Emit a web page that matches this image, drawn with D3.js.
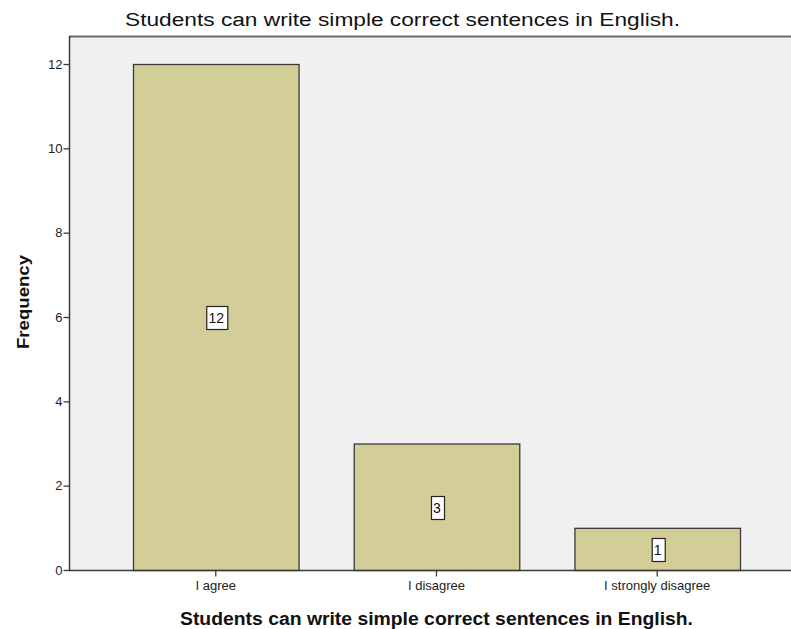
<!DOCTYPE html>
<html>
<head>
<meta charset="utf-8">
<script src="https://cdn.jsdelivr.net/npm/d3@7"></script>
<style>
  html, body { margin: 0; padding: 0; background: #fff; }
  svg { display: block; font-family: "Liberation Sans", Arial, sans-serif; }
</style>
</head>
<body>
<svg id="chart" width="791" height="629"></svg>
<script>
// Response categories and their counts
const categories = ["I agree", "I disagree", "I strongly disagree"];
const frequencies = [12, 3, 1];
const yTicks = [0, 2, 4, 6, 8, 10, 12];
const chartTitle = "Students can write simple correct sentences in English.";
const xTitle = "Students can write simple correct sentences in English.";
const yTitle = "Frequency";

const svg = d3.select("#chart");
const plot = { left: 69, top: 36, right: 804, bottom: 570 };

const x = d3.scaleBand()
  .domain(categories)
  .range([plot.left, plot.right])
  .paddingInner(0.25)
  .paddingOuter(0.29);

const y = d3.scaleLinear()
  .domain([0, 12])
  .range([plot.bottom, 64]);

// Plot background and frame
svg.append("rect")
  .attr("x", plot.left).attr("y", plot.top)
  .attr("width", plot.right - plot.left).attr("height", plot.bottom - plot.top)
  .attr("fill", "#f0f0f0");
svg.append("line")
  .attr("x1", plot.left).attr("x2", plot.right)
  .attr("y1", plot.top + 0.5).attr("y2", plot.top + 0.5)
  .attr("stroke", "#6b6b6b").attr("stroke-width", 2);

// Bars
svg.append("g").selectAll("rect")
  .data(categories)
  .join("rect")
  .attr("x", d => x(d) + 0.5)
  .attr("y", (d, i) => y(frequencies[i]) + 0.5)
  .attr("width", x.bandwidth())
  .attr("height", (d, i) => y(0) - y(frequencies[i]))
  .attr("fill", "#d3ce98")
  .attr("stroke", "#3a3a3a")
  .attr("stroke-width", 1.3);

// Axes
const yAxis = svg.append("g")
  .attr("transform", `translate(${plot.left + 0.5},0)`)
  .call(d3.axisLeft(y).tickValues(yTicks).tickSize(6).tickPadding(1).tickFormat(d3.format("d")));
const xAxis = svg.append("g")
  .attr("transform", `translate(0,${plot.bottom + 0.5})`)
  .call(d3.axisBottom(x).tickSize(6).tickPadding(4));

[yAxis, xAxis].forEach(g => {
  g.select(".domain").attr("stroke", "#3a3a3a").attr("stroke-width", 1.5);
  g.selectAll(".tick line").attr("stroke", "#3a3a3a").attr("stroke-width", 1.3);
  g.selectAll(".tick text")
    .attr("fill", "#222")
    .style("font-size", "13px")
    .style("font-family", "'Liberation Sans', Arial, sans-serif");
});
xAxis.select(".domain").attr("d", `M${plot.left},0H${plot.right}`);
yAxis.select(".domain").attr("d", `M0,${plot.top}V${plot.bottom}`);

// Value labels centred in each bar
const labels = svg.append("g").selectAll("g")
  .data(categories)
  .join("g")
  .attr("transform", (d, i) => `translate(${x(d) + x.bandwidth() / 2 + 0.5},${Math.round(y(frequencies[i] / 2)) + 1})`);
labels.each(function (d, i) {
  const g = d3.select(this);
  const t = g.append("text")
    .attr("text-anchor", "middle")
    .attr("dy", "0.36em")
    .attr("fill", "#111")
    .style("font-size", "14px")
    .text(frequencies[i]);
  const bb = t.node().getBBox();
  g.insert("rect", "text")
    .attr("x", Math.round(bb.x - 2.5) + 0.5)
    .attr("y", -11.5)
    .attr("width", Math.round(bb.width + 5))
    .attr("height", 23)
    .attr("fill", "#fff")
    .attr("stroke", "#222")
    .attr("stroke-width", 1.2);
});

// Titles
svg.append("text")
  .attr("x", 402.5).attr("y", 26)
  .attr("text-anchor", "middle")
  .attr("fill", "#111")
  .attr("textLength", 555)
  .attr("lengthAdjust", "spacingAndGlyphs")
  .style("font-size", "18px")
  .text(chartTitle);

svg.append("text")
  .attr("x", 436.5).attr("y", 625)
  .attr("text-anchor", "middle")
  .attr("fill", "#111")
  .attr("textLength", 513)
  .attr("lengthAdjust", "spacingAndGlyphs")
  .style("font-size", "18px")
  .style("font-weight", "bold")
  .text(xTitle);

svg.append("text")
  .attr("transform", `translate(29,302) rotate(-90)`)
  .attr("text-anchor", "middle")
  .attr("fill", "#111")
  .attr("textLength", 94)
  .attr("lengthAdjust", "spacingAndGlyphs")
  .style("font-size", "17px")
  .style("font-weight", "bold")
  .text(yTitle);
</script>
</body>
</html>
